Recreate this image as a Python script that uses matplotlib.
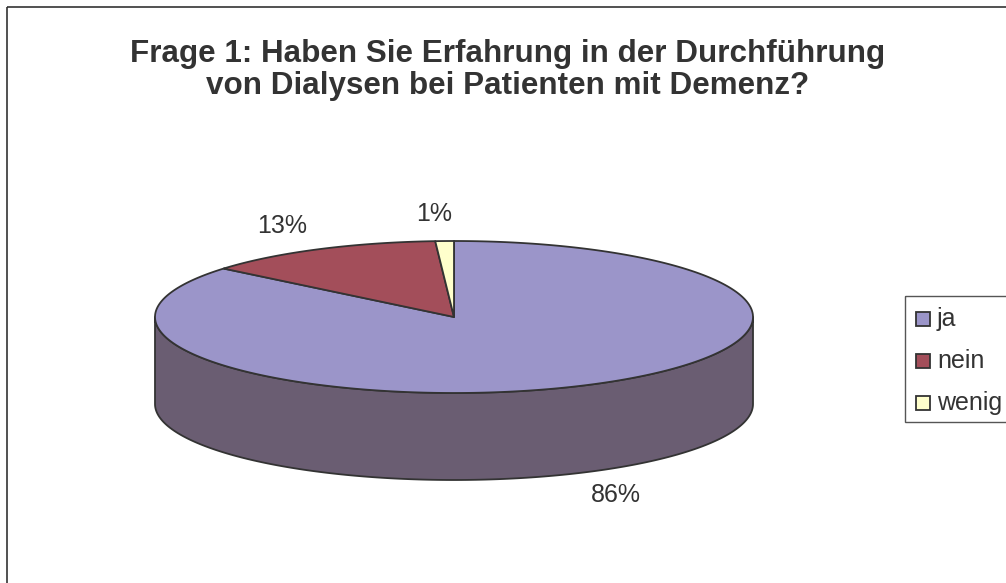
import numpy as np
import matplotlib
matplotlib.use("Agg")
import matplotlib.pyplot as plt
from matplotlib.patches import Polygon, Rectangle

plt.rcParams["font.family"] = ["Liberation Sans", "DejaVu Sans"]

# data
labels = ["ja", "nein", "wenig"]
values = [86, 13, 1]
title_lines = ["Frage 1: Haben Sie Erfahrung in der Durchführung",
               "von Dialysen bei Patienten mit Demenz?"]

top_cols = ["#9B95C9", "#A34E5A", "#FFFFCC"]
side_cols = ["#6A5D72", "#6E3540", "#B0B08A"]
EDGE = "#333333"

# layout in pixel coords (y down)
W, H = 1006, 583
CX, CY, A, B, D = 454, 317, 299, 76, 87
label_pos = [(616, 495), (282, 226), (434, 214)]

fig = plt.figure(figsize=(W / 100, H / 100), dpi=100)
ax = fig.add_axes([0, 0, 1, 1])
ax.set_xlim(0, W); ax.set_ylim(H, 0); ax.axis("off")

# outer chart frame (right/bottom sides lie outside the picture)
ax.add_patch(Rectangle((7, 7), W + 20, H + 20, fill=False, ec="#333333", lw=1.2))

def pt(th, dy=0.0):
    return CX + A * np.sin(th), CY - B * np.cos(th) + dy

frac = np.array(values, float) / sum(values)
edges = np.concatenate([[0], np.cumsum(frac)]) * 2 * np.pi

# visible side wall (front half, 90..270 deg clockwise from top)
for i in range(len(values)):
    t0, t1 = max(edges[i], np.pi / 2), min(edges[i + 1], 3 * np.pi / 2)
    if t1 <= t0:
        continue
    th = np.linspace(t0, t1, 200)
    x, y = pt(th)
    xs = np.concatenate([x, x[::-1]])
    ys = np.concatenate([y, (y + D)[::-1]])
    ax.add_patch(Polygon(np.c_[xs, ys], closed=True, fc=side_cols[i], ec=EDGE, lw=1.3, joinstyle="round"))

# top faces
for i in range(len(values)):
    th = np.linspace(edges[i], edges[i + 1], max(int(400 * frac[i]), 4))
    x, y = pt(th)
    xs = np.concatenate([[CX], x]); ys = np.concatenate([[CY], y])
    ax.add_patch(Polygon(np.c_[xs, ys], closed=True, fc=top_cols[i], ec=EDGE, lw=1.3, joinstyle="round"))

for v, (lx, ly) in zip(values, label_pos):
    ax.text(lx, ly, f"{v}%", ha="center", va="center", fontsize=18, color="#333333")

# title, sized so the first line spans ~754 px
t1 = ax.text(508, 62, title_lines[0], ha="center", va="baseline", fontsize=21, fontweight="bold", color="#333333")
fig.canvas.draw()
w = t1.get_window_extent().width
fs = 21 * 754 / w
t1.set_fontsize(fs)
ax.text(508, 94, title_lines[1], ha="center", va="baseline", fontsize=fs, fontweight="bold", color="#333333")

# legend
ax.add_patch(Rectangle((905, 296), 140, 126, fill=False, ec="#555555", lw=1.0))
for i, (lab, yy) in enumerate(zip(labels, [319, 361, 403])):
    ax.add_patch(Rectangle((916, yy - 7), 14, 14, fc=top_cols[i], ec=EDGE, lw=1.3))
    ax.text(937, yy, lab, ha="left", va="center", fontsize=18, color="#333333")

fig.savefig("out.png", dpi=100)
